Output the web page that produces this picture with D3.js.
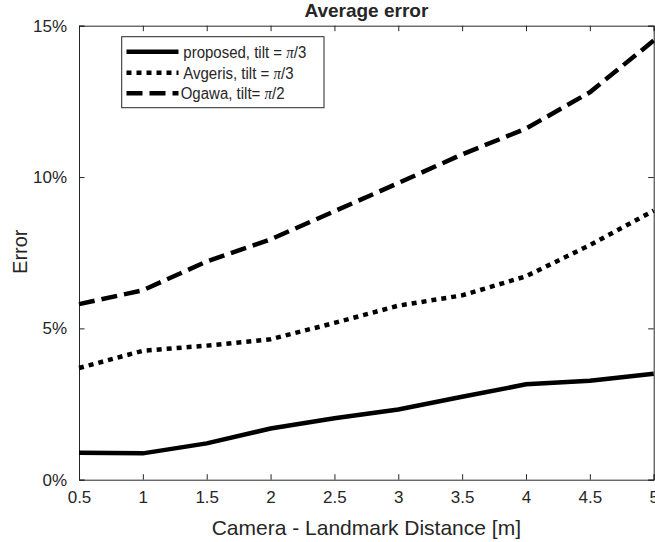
<!DOCTYPE html>
<html><head><meta charset="utf-8">
<script src="https://cdn.jsdelivr.net/npm/d3@7"></script>
<style>body{margin:0;background:#fff}svg{display:block}text{font-family:"Liberation Sans",Arial,Helvetica,sans-serif;fill:#262626}</style>
</head><body>
<script>
const distances = [0.5, 1, 1.5, 2, 2.5, 3, 3.5, 4, 4.5, 5];
const proposed = [0.89, 0.87, 1.20, 1.69, 2.03, 2.32, 2.74, 3.15, 3.27, 3.50];
const avgeris  = [3.69, 4.26, 4.43, 4.64, 5.18, 5.75, 6.09, 6.72, 7.75, 8.89];
const ogawa    = [5.80, 6.26, 7.21, 7.94, 8.87, 9.80, 10.75, 11.60, 12.80, 14.51];
const xTicks = [0.5, 1, 1.5, 2, 2.5, 3, 3.5, 4, 4.5, 5];
const xTickLabels = ["0.5","1","1.5","2","2.5","3","3.5","4","4.5","5"];
const yTicks = [0, 5, 10, 15];
const yTickLabels = ["0%","5%","10%","15%"];
const seriesNames = ["proposed, tilt = ", "Avgeris, tilt = ", "Ogawa, tilt= "];
const seriesPi = ["/3", "/3", "/2"];
const dashes = [null, "5,5", "16,7"];

const W = 655, H = 542;
const m = {l: 79, r: 655 - 653.7, t: 25.7, b: 542 - 479.7};
const svg = d3.select("body").append("svg").attr("width", W).attr("height", H);
const x = d3.scaleLinear().domain([0.5, 5]).range([m.l, W - m.r]);
const y = d3.scaleLinear().domain([0, 15]).range([H - m.b, m.t]);
const axColor = "#262626";
const tickLen = 5.5;

// axes box
const g = svg.append("g");
const xb = g.append("g").attr("transform", `translate(0,${y(0)})`)
  .call(d3.axisBottom(x).tickValues(xTicks).tickSize(-tickLen).tickPadding(11)
    .tickFormat((d, i) => xTickLabels[i]));
const xt = g.append("g").attr("transform", `translate(0,${y(15)})`)
  .call(d3.axisTop(x).tickValues(xTicks).tickSize(-tickLen).tickFormat(""));
const yl = g.append("g").attr("transform", `translate(${x(0.5)},0)`)
  .call(d3.axisLeft(y).tickValues(yTicks).tickSize(-tickLen).tickPadding(12)
    .tickFormat((d, i) => yTickLabels[i]));
const yr = g.append("g").attr("transform", `translate(${x(5)},0)`)
  .call(d3.axisRight(y).tickValues(yTicks).tickSize(-tickLen).tickFormat(""));
[xb, xt, yl, yr].forEach(a => {
  a.select(".domain").attr("stroke", axColor).attr("stroke-width", 1);
  a.selectAll(".tick line").attr("stroke", axColor).attr("stroke-width", 1);
  a.selectAll(".tick text").attr("fill", axColor).style("font-size", "17px")
    .style("font-family", '"Liberation Sans",Arial,sans-serif');
});
xb.selectAll(".tick text").attr("dy", "0.71em");

// lines
const line = d3.line().x((d, i) => x(distances[i])).y(d => y(d));
const allSeries = [proposed, avgeris, ogawa];
allSeries.forEach((s, k) => {
  svg.append("path").datum(s).attr("d", line).attr("fill", "none")
    .attr("stroke", "#000").attr("stroke-width", 4.5)
    .attr("stroke-linejoin", "miter").attr("stroke-linecap", "butt")
    .attr("stroke-dasharray", dashes[k]);
});

// title & labels
svg.append("text").attr("x", (x(0.5) + x(5)) / 2).attr("y", 16.7)
  .attr("text-anchor", "middle").style("font-size", "19px").style("font-weight", "bold")
  .attr("fill", "#000").text("Average error");
svg.append("text").attr("x", (x(0.5) + x(5)) / 2).attr("y", 535)
  .attr("text-anchor", "middle").style("font-size", "21px").text("Camera - Landmark Distance [m]");
svg.append("text").attr("transform", "translate(26.5,251.7) rotate(-90)")
  .attr("text-anchor", "middle").style("font-size", "20px").text("Error");

// legend
const lg = svg.append("g");
lg.append("rect").attr("x", 121.7).attr("y", 36.7).attr("width", 324 - 121.7).attr("height", 107.7 - 36.7)
  .attr("fill", "#fff").attr("stroke", axColor).attr("stroke-width", 1);
const rowsY = [51.7, 72.7, 93.3];
seriesNames.forEach((name, k) => {
  lg.append("line").attr("x1", 126.5).attr("x2", 178.5).attr("y1", rowsY[k]).attr("y2", rowsY[k])
    .attr("stroke", "#000").attr("stroke-width", 4.5).attr("stroke-dasharray", dashes[k]);
  const t = lg.append("text").attr("transform", `translate(${k === 2 ? 180.7 : 183.3},${rowsY[k]}) scale(1,1.08)`)
    .attr("dy", "0.36em").style("font-size", "15px").attr("fill", "#000");
  t.append("tspan").text(name);
  t.append("tspan").style("font-family", '"Liberation Serif","Times New Roman",serif')
    .style("font-style", "italic").text("\u03c0");
  t.append("tspan").text(seriesPi[k]);
});
</script>
</body></html>
